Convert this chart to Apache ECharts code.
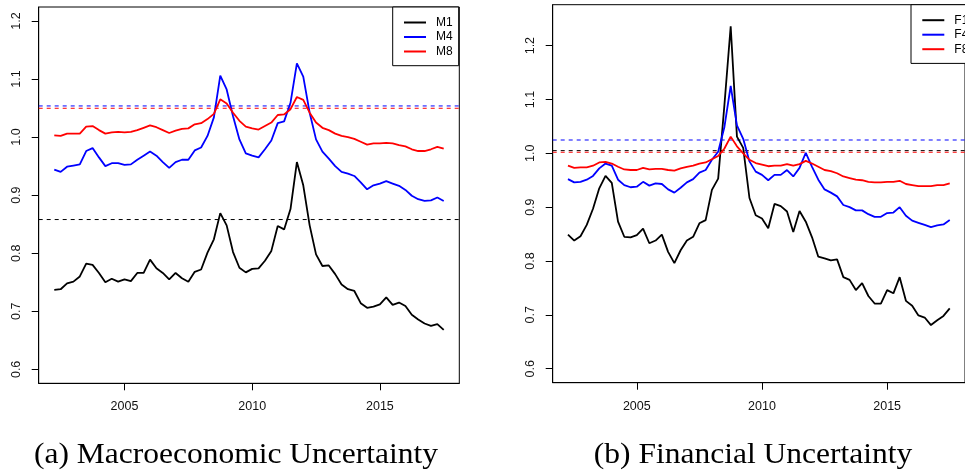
<!DOCTYPE html>
<html>
<head>
<meta charset="utf-8">
<script src="https://cdn.jsdelivr.net/npm/echarts@6/dist/echarts.min.js"></script>
<style>
  html, body { margin: 0; padding: 0; background: #fff; }
  #chart { width: 965px; height: 471px; }
</style>
</head>
<body>
<div id="chart"></div>
<script>
// Quarterly uncertainty measures, 2002Q2 - 2017Q3
const START_YEAR = 2002.25;
const STEP = 0.25;

// Macroeconomic uncertainty (horizons 1, 4, 8)
const M1 = [
  0.737, 0.738, 0.748, 0.751, 0.760, 0.782, 0.780, 0.766, 0.750, 0.756,
  0.751, 0.755, 0.752, 0.766, 0.766, 0.789, 0.774, 0.766, 0.755, 0.766,
  0.757, 0.751, 0.768, 0.772, 0.801, 0.824, 0.869, 0.848, 0.802, 0.775,
  0.767, 0.773, 0.774, 0.787, 0.804, 0.847, 0.841, 0.876, 0.957, 0.917,
  0.848, 0.798, 0.778, 0.779, 0.764, 0.746, 0.738, 0.735, 0.714, 0.706,
  0.708, 0.712, 0.724, 0.711, 0.715, 0.709, 0.694, 0.686, 0.679, 0.675,
  0.678, 0.668
];
const M4 = [
  0.944, 0.940, 0.949, 0.951, 0.953, 0.976, 0.981, 0.965, 0.950, 0.955,
  0.955, 0.952, 0.953, 0.961, 0.968, 0.975, 0.968, 0.957, 0.947, 0.957,
  0.961, 0.961, 0.977, 0.982, 1.002, 1.034, 1.106, 1.082, 1.036, 0.996,
  0.972, 0.968, 0.965, 0.979, 0.994, 1.024, 1.027, 1.059, 1.127, 1.104,
  1.042, 0.996, 0.975, 0.963, 0.950, 0.940, 0.937, 0.933, 0.922, 0.910,
  0.917, 0.920, 0.924, 0.920, 0.916, 0.909, 0.899, 0.893, 0.890, 0.891,
  0.896, 0.890
];
const M8 = [
  1.003, 1.002, 1.006, 1.006, 1.006, 1.018, 1.019, 1.012, 1.006, 1.008,
  1.009, 1.008, 1.009, 1.012, 1.016, 1.020, 1.017, 1.012, 1.007, 1.011,
  1.014, 1.015, 1.022, 1.024, 1.031, 1.040, 1.065, 1.058, 1.042, 1.028,
  1.018, 1.015, 1.013, 1.019, 1.025, 1.038, 1.039, 1.048, 1.069, 1.064,
  1.042, 1.025, 1.016, 1.012, 1.006, 1.002, 1.000, 0.997, 0.992, 0.987,
  0.989, 0.989, 0.990, 0.989, 0.986, 0.984, 0.979, 0.976, 0.976, 0.979,
  0.983, 0.980
];

// Financial uncertainty (horizons 1, 4, 8)
const F1 = [
  0.849, 0.838, 0.846, 0.867, 0.897, 0.935, 0.958, 0.945, 0.873, 0.845,
  0.844, 0.848, 0.860, 0.833, 0.838, 0.849, 0.817, 0.796, 0.820, 0.838,
  0.845, 0.870, 0.876, 0.932, 0.953, 1.090, 1.236, 1.031, 1.010, 0.917,
  0.885, 0.879, 0.861, 0.906, 0.902, 0.892, 0.854, 0.893, 0.873, 0.844,
  0.808, 0.805, 0.801, 0.803, 0.770, 0.765, 0.746, 0.759, 0.735, 0.721,
  0.721, 0.746, 0.740, 0.770, 0.726, 0.717, 0.699, 0.695, 0.681, 0.690,
  0.698, 0.712
];
const F4 = [
  0.952, 0.946, 0.947, 0.951, 0.958, 0.972, 0.981, 0.977, 0.951, 0.941,
  0.937, 0.938, 0.947, 0.940, 0.944, 0.943, 0.933, 0.927, 0.936, 0.946,
  0.952, 0.964, 0.969, 0.988, 1.003, 1.049, 1.125, 1.052, 1.027, 0.985,
  0.966, 0.960, 0.950, 0.960, 0.960, 0.969, 0.957, 0.973, 1.001, 0.975,
  0.951, 0.933, 0.927, 0.920, 0.904, 0.900, 0.894, 0.894, 0.887, 0.882,
  0.882, 0.889, 0.890, 0.900, 0.884, 0.875, 0.871, 0.867, 0.863, 0.866,
  0.868, 0.876
];
const F8 = [
  0.977, 0.973, 0.974, 0.974, 0.977, 0.983, 0.984, 0.981, 0.975, 0.970,
  0.969, 0.969, 0.973, 0.970, 0.971, 0.971, 0.969, 0.968, 0.972, 0.975,
  0.977, 0.981, 0.983, 0.989, 0.995, 1.009, 1.031, 1.013, 1.000, 0.988,
  0.982, 0.979, 0.976, 0.977, 0.977, 0.980, 0.977, 0.980, 0.986, 0.981,
  0.975, 0.969, 0.967, 0.963, 0.957, 0.954, 0.951, 0.950, 0.947, 0.946,
  0.946, 0.947, 0.947, 0.949, 0.943, 0.941, 0.939, 0.939, 0.939, 0.941,
  0.941, 0.944
];

// Threshold levels (dashed reference lines)
const MACRO_REF = { M1: 0.858, M4: 1.0536, M8: 1.0496 };
const FIN_REF = { F1: 1.005, F4: 1.0247, F8: 1.002 };

// Axis ticks
const X_TICKS = [2005, 2010, 2015];
const Y_TICKS = [0.6, 0.7, 0.8, 0.9, 1.0, 1.1, 1.2];

const CAPTIONS = ['(a) Macroeconomic Uncertainty', '(b) Financial Uncertainty'];

const X_MIN = 2001.64, X_MAX = 2018.11;

const years = M1.map((_, i) => START_YEAR + STEP * i);
const pairs = (vals) => vals.map((v, i) => [years[i], v]);

const COLORS = { h1: '#000000', h4: '#0000ff', h8: '#ff0000' };
const SANS = '"Liberation Sans", Arial, Helvetica, sans-serif';
const SERIF = '"Liberation Serif", "Times New Roman", serif';

function mkSeries(name, vals, color, idx) {
  return {
    name: name,
    type: 'line',
    xAxisIndex: idx,
    yAxisIndex: idx,
    data: pairs(vals),
    showSymbol: false,
    symbol: 'none',
    lineStyle: { color: color, width: 1.8 },
    itemStyle: { color: color },
    emphasis: { disabled: true },
    z: 3
  };
}

// horizontal dashed level across the whole plotting range
function refSeries(value, color, idx) {
  return {
    type: 'line',
    xAxisIndex: idx,
    yAxisIndex: idx,
    data: [[X_MIN, value], [X_MAX, value]],
    showSymbol: false,
    symbol: 'none',
    silent: true,
    lineStyle: { color: color, width: 1, type: [4, 4] },
    emphasis: { disabled: true },
    z: 2
  };
}

function xAxis(idx) {
  return {
    type: 'value',
    gridIndex: idx,
    min: X_MIN,
    max: X_MAX,
    splitLine: { show: false },
    axisLine: { show: true, onZero: false, lineStyle: { color: '#000', width: 1 } },
    axisTick: { show: true, inside: false, length: 7, customValues: X_TICKS, lineStyle: { color: '#000' } },
    axisLabel: {
      customValues: X_TICKS,
      margin: 17,
      fontFamily: SANS, fontSize: 12.5, color: '#111',
      formatter: (v) => String(Math.round(v))
    }
  };
}

function yAxis(idx, min, max) {
  return {
    type: 'value',
    gridIndex: idx,
    min: min,
    max: max,
    splitLine: { show: false },
    axisLine: { show: true, onZero: false, lineStyle: { color: '#000', width: 1 } },
    axisTick: { show: true, inside: false, length: 7, customValues: Y_TICKS, lineStyle: { color: '#000' } },
    axisLabel: {
      customValues: Y_TICKS,
      rotate: 90,
      margin: 16,
      fontFamily: SANS, fontSize: 12.5, color: '#111',
      formatter: (v) => v.toFixed(1)
    }
  };
}

function legendBox(names, left, top) {
  return {
    data: names,
    orient: 'vertical',
    left: left,
    top: top,
    align: 'left',
    icon: 'rect',
    itemWidth: 22,
    itemHeight: 2,
    itemGap: 0.5,
    padding: [8.5, 6, 7.2, 11.3],
    backgroundColor: '#fff',
    borderColor: '#000',
    borderWidth: 1,
    borderRadius: 0,
    selectedMode: false,
    textStyle: { fontFamily: SANS, fontSize: 12, color: '#000', lineHeight: 14, padding: [0, 0, 0, 5] }
  };
}

// caption under each panel, stretched slightly to the width of a wide book serif
function caption(text, cx) {
  return {
    type: 'text',
    x: cx,
    y: 455,
    scaleX: 1.05,
    silent: true,
    style: {
      text: text,
      font: '30px ' + SERIF,
      fill: '#000',
      align: 'center',
      verticalAlign: 'middle'
    }
  };
}

const chart = echarts.init(document.getElementById('chart'), null, { renderer: 'canvas' });

chart.setOption({
  animation: false,
  backgroundColor: '#fff',
  grid: [
    { left: 38.7, top: 7, width: 420.6, height: 376.3, show: true, borderColor: '#000', borderWidth: 1, backgroundColor: 'transparent' },
    { left: 552.7, top: 4.7, width: 421.8, height: 378, show: true, borderColor: '#000', borderWidth: 1, backgroundColor: 'transparent' }
  ],
  xAxis: [xAxis(0), xAxis(1)],
  yAxis: [yAxis(0, 0.576, 1.224), yAxis(1, 0.574, 1.276)],
  legend: [
    legendBox(['M1', 'M4', 'M8'], 392.7, 7),
    legendBox(['F1', 'F4', 'F8'], 911, 4.7)
  ],
  graphic: [caption(CAPTIONS[0], 236), caption(CAPTIONS[1], 753)],
  series: [
    refSeries(MACRO_REF.M1, COLORS.h1, 0),
    refSeries(MACRO_REF.M4, COLORS.h4, 0),
    refSeries(MACRO_REF.M8, COLORS.h8, 0),
    refSeries(FIN_REF.F4, COLORS.h4, 1),
    refSeries(FIN_REF.F1, COLORS.h1, 1),
    refSeries(FIN_REF.F8, COLORS.h8, 1),
    mkSeries('M1', M1, COLORS.h1, 0),
    mkSeries('M4', M4, COLORS.h4, 0),
    mkSeries('M8', M8, COLORS.h8, 0),
    mkSeries('F1', F1, COLORS.h1, 1),
    mkSeries('F4', F4, COLORS.h4, 1),
    mkSeries('F8', F8, COLORS.h8, 1)
  ]
});
</script>
</body>
</html>
